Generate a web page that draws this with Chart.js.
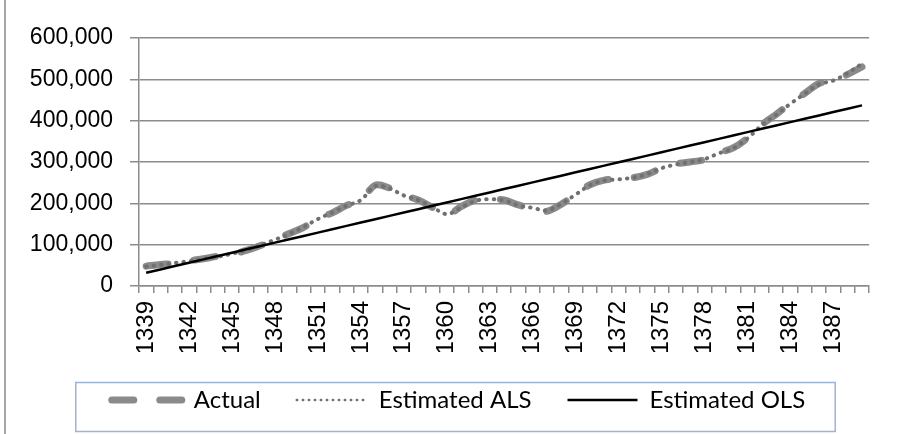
<!DOCTYPE html>
<html>
<head>
<meta charset="utf-8">
<script src="https://cdn.jsdelivr.net/npm/chart.js@4/dist/chart.umd.min.js"></script>
<style>
  html, body { margin: 0; padding: 0; background: #fff; }
  #wrap { position: relative; width: 899px; height: 434px; }
</style>
</head>
<body>
<div id="wrap"><canvas id="olsChart" width="899" height="434"></canvas></div>
<script>
// years 1339..1389
const years = []
for (let y = 1339; y <= 1389; y++) years.push(String(y))

const actual = [
  48000, 52000, 55000, 61000, 66000, 72000, 77000, 86000, 98000, 112000,
  127000, 142000, 163000, 177000, 195000, 207000, 244000, 237000, 220000, 208000,
  190000, 172000, 192000, 208000, 210000, 208000, 196000, 188000, 181000, 198000,
  222000, 245000, 256000, 259000, 262000, 270000, 285000, 295000, 300000, 306000,
  322000, 334000, 358000, 390000, 415000, 442000, 466000, 490000, 498000, 512000,
  530000
]

const estimatedALS = [
  47000, 51000, 56000, 60000, 66000, 71000, 78000, 87000, 99000, 112000,
  126000, 143000, 162000, 178000, 194000, 208000, 242000, 236000, 219000, 208000,
  191000, 174000, 190000, 206000, 210000, 207000, 195000, 189000, 183000, 199000,
  221000, 244000, 255000, 258000, 262000, 271000, 285000, 294000, 300000, 307000,
  321000, 333000, 357000, 389000, 414000, 441000, 465000, 488000, 497000, 515000,
  538000
]

const estimatedOLS = [
  32000, 40100, 48200, 56300, 64400, 72500, 80600, 88700, 96800, 104900,
  113000, 121100, 129200, 137300, 145400, 153500, 161600, 169700, 177800, 185900,
  194000, 202100, 210200, 218300, 226400, 234500, 242600, 250700, 258800, 266900,
  275000, 283100, 291200, 299300, 307400, 315500, 323600, 331700, 339800, 347900,
  356000, 364100, 372200, 380300, 388400, 396500, 404600, 412700, 420800, 428900,
  437000
]

const yTicks = [0, 100000, 200000, 300000, 400000, 500000, 600000]

// frame on the left edge, legend nudge and the box round the legend
const framePlugin = {
  id: 'frames',
  afterLayout(chart) {
    chart.legend.left += 10
    chart.legend.right += 10
  },
  afterDraw(chart) {
    const ctx = chart.ctx
    ctx.save()
    ctx.strokeStyle = '#a6a6a6'
    ctx.lineWidth = 2
    ctx.beginPath()
    ctx.moveTo(5, 0)
    ctx.lineTo(5, chart.height)
    ctx.stroke()

    const boxes = chart.legend.legendHitBoxes
    if (boxes && boxes.length) {
      const left = Math.min(...boxes.map(b => b.left)) - 36
      const right = Math.max(...boxes.map(b => b.left + b.width)) + 30
      const mid = boxes[0].top + boxes[0].height / 2 + 7
      ctx.strokeStyle = '#9db4d6'
      ctx.lineWidth = 1.5
      ctx.strokeRect(left, mid - 24.5, right - left, 49)
    }
    ctx.restore()
  }
}

const ctx = document.getElementById('olsChart')
new Chart(ctx, {
  type: 'line',
  data: {
    labels: years,
    datasets: [
      {
        label: 'Actual',
        data: actual,
        borderColor: '#8a8a8a',
        backgroundColor: '#8a8a8a',
        borderWidth: 7,
        borderDash: [22, 26],
        borderCapStyle: 'round',
        tension: 0.35,
        pointRadius: 0,
        pointStyle: 'line',
        order: 3
      },
      {
        label: 'Estimated ALS',
        data: estimatedALS,
        borderColor: '#707070',
        backgroundColor: '#707070',
        borderWidth: 4,
        borderDash: [0.5, 7],
        borderCapStyle: 'round',
        tension: 0.35,
        pointRadius: 0,
        pointStyle: 'line',
        order: 2
      },
      {
        label: 'Estimated OLS',
        data: estimatedOLS,
        borderColor: '#000000',
        backgroundColor: '#000000',
        borderWidth: 2.5,
        tension: 0,
        pointRadius: 0,
        pointStyle: 'line',
        order: 1
      }
    ]
  },
  options: {
    responsive: false,
    animation: false,
    layout: {
      padding: { left: 20, right: 22, top: 38, bottom: 12 }
    },
    plugins: {
      tooltip: { enabled: false },
      legend: {
        position: 'bottom',
        labels: {
          usePointStyle: true,
          pointStyleWidth: 70,
          padding: 36,
          color: '#000',
          font: { family: 'Lato', size: 24 },
          sort: (a, b) => a.datasetIndex - b.datasetIndex,
          generateLabels: function (chart) {
            const items = Chart.defaults.plugins.legend.labels.generateLabels(chart)
            items.forEach(item => {
              const ds = chart.data.datasets[item.datasetIndex]
              item.lineDash = ds.borderDash || []
              item.lineCap = ds.borderCapStyle || 'butt'
              // thinner dots in the legend sample
              if (ds.label === 'Estimated ALS') {
                item.lineWidth = 2.4
                item.lineDash = [0.5, 5.5]
              }
            })
            return items
          }
        }
      }
    },
    scales: {
      x: {
        offset: true,
        grid: {
          offset: true,
          drawOnChartArea: false,
          tickLength: 7,
          color: '#8c8c8c',
          lineWidth: 1.5
        },
        border: { color: '#8c8c8c', width: 1.5 },
        ticks: {
          autoSkip: false,
          minRotation: 90,
          maxRotation: 90,
          padding: 8,
          color: '#000',
          font: { family: 'Liberation Sans', size: 24 },
          callback: function (value, index) {
            return index % 3 === 0 ? years[index] : ''
          }
        },
        afterFit: function (scale) {
          scale.height = 66
        }
      },
      y: {
        min: 0,
        max: 600000,
        afterBuildTicks: function (scale) {
          scale.ticks = yTicks.map(v => ({ value: v }))
        },
        grid: {
          color: '#8c8c8c',
          lineWidth: 1.5,
          tickLength: 9
        },
        border: { color: '#8c8c8c', width: 1.5 },
        ticks: {
          padding: 17,
          color: '#000',
          font: { family: 'Liberation Sans', size: 23 },
          callback: function (value) {
            return value.toLocaleString('en-US')
          }
        },
        afterFit: function (scale) {
          scale.width = 119
        }
      }
    }
  },
  plugins: [framePlugin]
})
</script>
</body>
</html>
